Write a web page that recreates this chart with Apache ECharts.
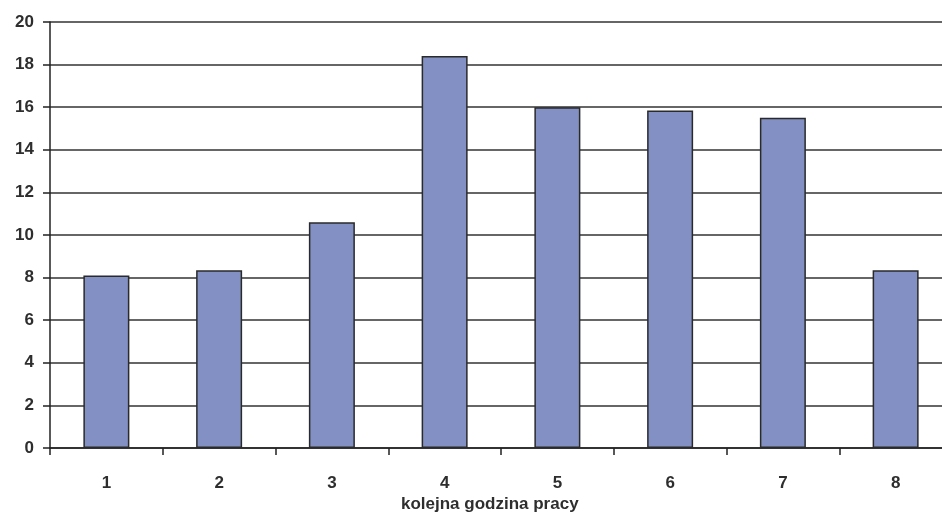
<!DOCTYPE html>
<html>
<head>
<meta charset="utf-8">
<script src="https://cdn.jsdelivr.net/npm/echarts@6/dist/echarts.min.js"></script>
<style>
  html, body { margin: 0; padding: 0; background: #fff; }
  #chart { width: 942px; height: 516px; }
</style>
</head>
<body>
<div id="chart"></div>
<script>
// Hour of work (1–8) and measured values
const hours = ['1', '2', '3', '4', '5', '6', '7', '8'];
const values = [8.1, 8.35, 10.6, 18.4, 16.0, 15.85, 15.5, 8.35];
const yTicks = { min: 0, max: 20, interval: 2 };
const xAxisTitle = 'kolejna godzina pracy';

const chart = echarts.init(document.getElementById('chart'), null, { renderer: 'canvas' });

const labelFont = {
  fontFamily: 'Liberation Sans, Arial, sans-serif',
  fontWeight: 'bold',
  fontSize: 17,
  color: '#2e2e2e'
};

chart.setOption({
  animation: false,
  backgroundColor: '#fff',
  // plot runs a little past the right edge of the canvas
  grid: { left: 50, top: 22, width: 902, bottom: 68, containLabel: false, outerBoundsMode: 'none' },
  xAxis: {
    type: 'category',
    data: hours,
    axisLine: { lineStyle: { color: '#222', width: 1.5 } },
    axisTick: { show: true, length: 7, alignWithLabel: false, lineStyle: { color: '#222', width: 1.5 } },
    axisLabel: Object.assign({ margin: 27 }, labelFont),
    splitLine: { show: false }
  },
  yAxis: {
    type: 'value',
    min: yTicks.min,
    max: yTicks.max,
    interval: yTicks.interval,
    axisLine: { show: true, lineStyle: { color: '#222', width: 1.5 } },
    axisTick: { show: true, length: 7, lineStyle: { color: '#222', width: 1.5 } },
    axisLabel: Object.assign({ margin: 16 }, labelFont),
    splitLine: { show: true, lineStyle: { color: '#333', width: 1.5 } }
  },
  series: [{
    type: 'bar',
    data: values,
    barWidth: 46,
    itemStyle: { color: '#8290C3', borderColor: '#2a2a2a', borderWidth: 1.5 },
    z: 3
  }],
  graphic: [{
    type: 'text',
    left: 401,
    top: 496,
    style: {
      text: xAxisTitle,
      fill: '#2e2e2e',
      font: 'bold 17px "Liberation Sans", Arial, sans-serif'
    }
  }]
});
</script>
</body>
</html>
